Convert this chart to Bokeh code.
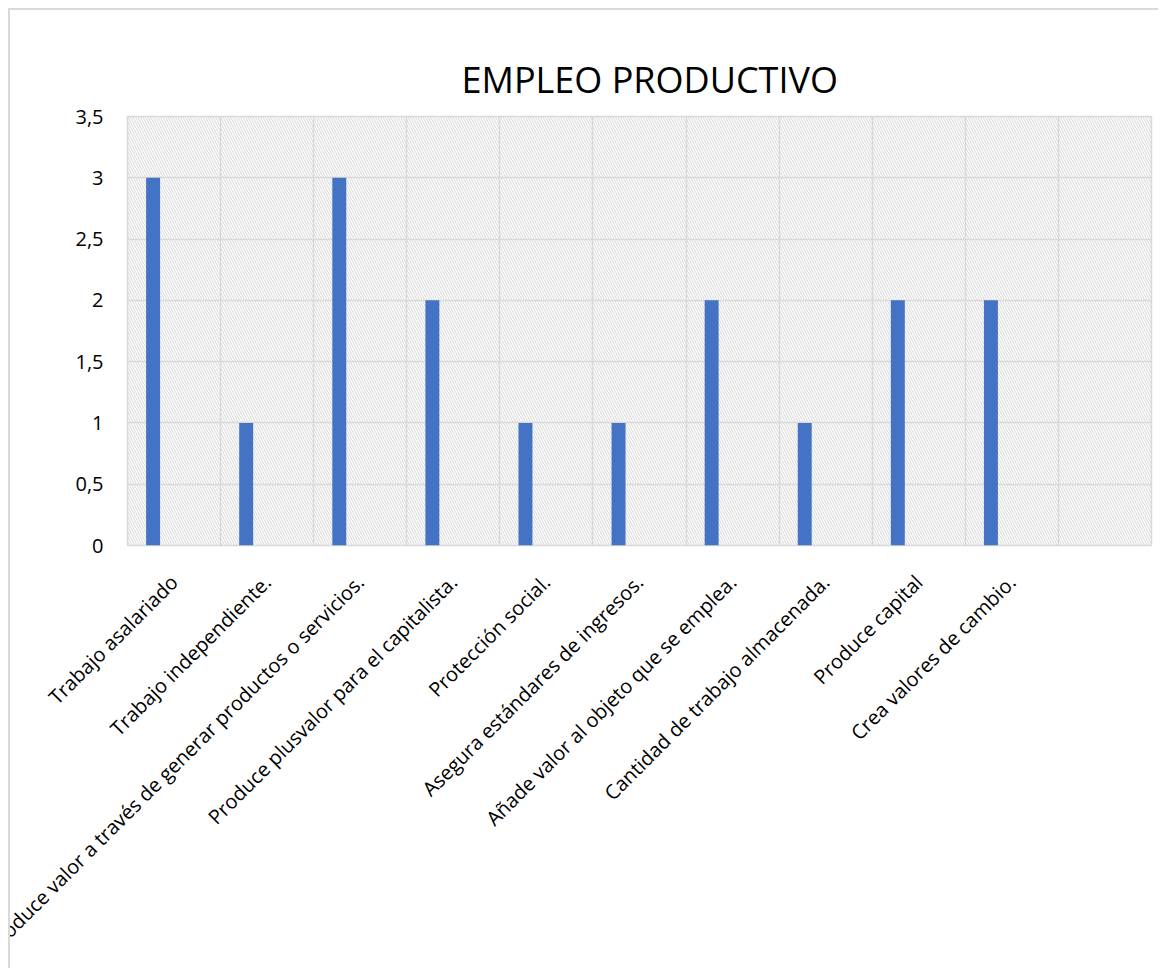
import numpy as np
from bokeh.plotting import figure
from bokeh.models import FixedTicker, BoxAnnotation
from bokeh.embed import file_html
from bokeh.resources import INLINE

title_text = "EMPLEO PRODUCTIVO"
categories = [
    "Trabajo asalariado",
    "Trabajo independiente.",
    "Produce valor a través de generar productos o servicios.",
    "Produce plusvalor para el capitalista.",
    "Protección social.",
    "Asegura estándares de ingresos.",
    "Añade valor al objeto que se emplea.",
    "Cantidad de trabajo almacenada.",
    "Produce capital",
    "Crea valores de cambio.",
    "",
]
values = [3, 1, 3, 2, 1, 1, 2, 1, 2, 2, np.nan]
y_ticks = [0, 0.5, 1, 1.5, 2, 2.5, 3, 3.5]
y_tick_labels = ["0", "0,5", "1", "1,5", "2", "2,5", "3", "3,5"]

FONT = "Open Sans"
n = len(categories)
idx = np.arange(n)
centers = idx + 0.5
bar_x = idx + 0.275

p = figure(
    width=1150, height=960,
    x_range=(0, n), y_range=(0, 3.5),
    output_backend="svg", toolbar_location=None,
    min_border_left=117, min_border_top=106,
    min_border_right=9, min_border_bottom=425,
)
p.styles = {"margin-left": "8px", "margin-top": "8px",
            "border-left": "2px solid #d9d9d9", "border-top": "2px solid #d9d9d9"}

p.title.text = title_text
p.title.align = "left"
p.title.text_font = FONT
p.title.text_font_size = "36px"
p.title.text_font_style = "normal"
p.title.text_color = "#000000"
p.title.standoff = 25
p.title.offset = 334

hatch = BoxAnnotation(fill_alpha=0, line_alpha=0, hatch_pattern="\\",
                      hatch_color="#d6d6d6", hatch_scale=5, hatch_weight=1,
                      level="image")
p.add_layout(hatch)

p.vbar(x=bar_x, top=values, width=0.15, bottom=0, fill_color="#4472C4", line_color=None)

p.xaxis.ticker = FixedTicker(ticks=list(centers))
p.xaxis.major_label_overrides = {float(c): lab for c, lab in zip(centers, categories)}
p.xaxis.major_label_orientation = np.pi / 4
p.xgrid.ticker = FixedTicker(ticks=list(range(n + 1)))
p.yaxis.ticker = FixedTicker(ticks=y_ticks)
p.yaxis.major_label_overrides = {float(t): lab for t, lab in zip(y_ticks, y_tick_labels)}

for ax in (p.xaxis, p.yaxis):
    ax.axis_line_color = None
    ax.major_tick_line_color = None
    ax.minor_tick_line_color = None
    ax.major_tick_out = 0
    ax.major_label_text_font = FONT
    ax.major_label_text_font_size = "20px"
    ax.major_label_text_color = "#000000"
p.yaxis.major_label_standoff = 24
p.xaxis.major_label_standoff = 33

for g in (p.xgrid, p.ygrid):
    g.grid_line_color = "#d9d9d9"
    g.grid_line_width = 1.5
p.outline_line_color = "#d9d9d9"
p.outline_line_width = 1.5

open("out.html", "w").write(file_html(p, INLINE))
